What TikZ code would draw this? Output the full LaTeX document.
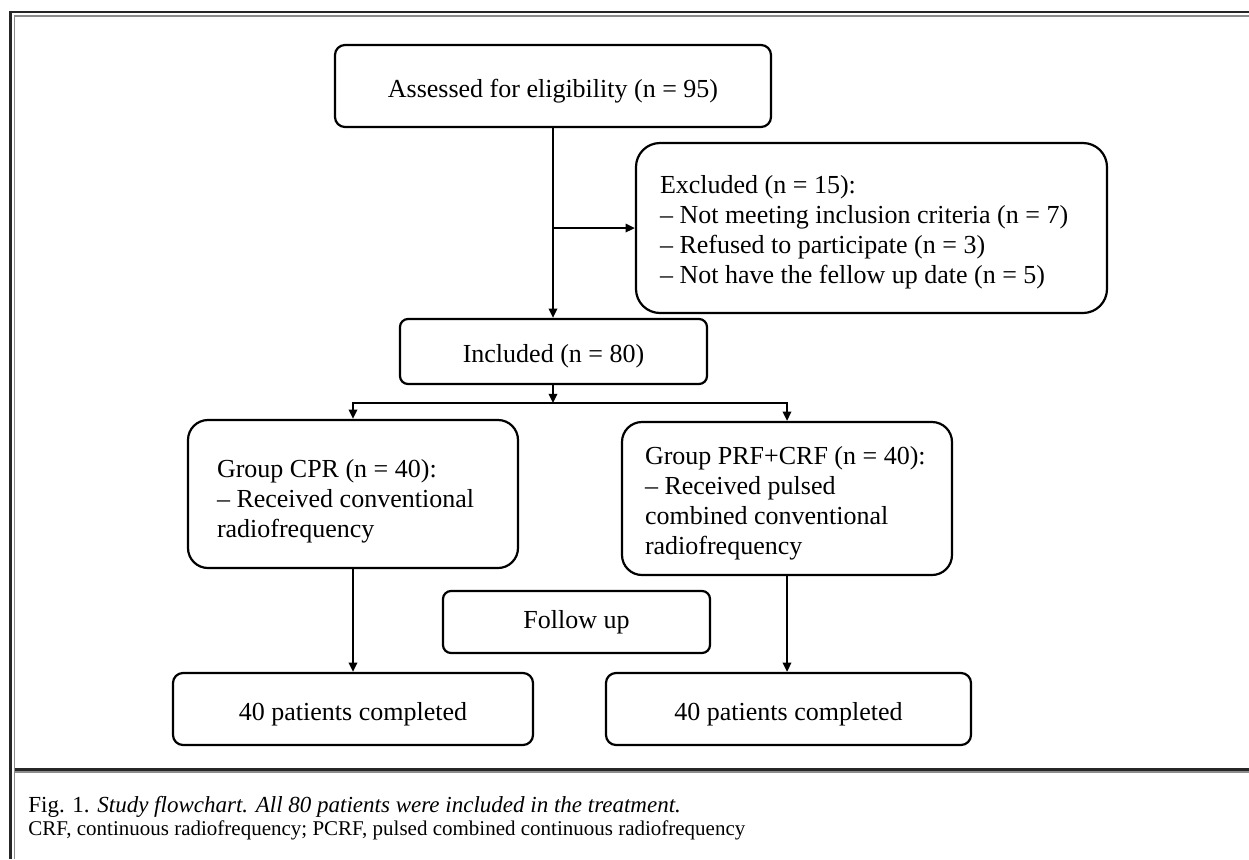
\documentclass[tikz,border=0pt]{standalone}
\usepackage{fontspec}
\setmainfont{Liberation Serif}
\usetikzlibrary{arrows.meta}
\newcommand{\lblock}[3]{\makebox[#1][l]{\begin{tabular}{@{}l@{}}\rule{0pt}{#2}#3\end{tabular}}}
\begin{document}
\begin{tikzpicture}[x=0.5pt,y=-0.5pt,
  fbox/.style={draw, line width=1.1pt, font=\fontsize{13}{15}\selectfont, inner sep=0pt, align=center},
  lowtext/.style={text height=14pt, text depth=3pt},
  arr/.style={line width=1pt, -{Triangle[length=4.6pt,width=4.2pt]}},
  frameline/.style={line width=1.3pt, black!85},
  frameshade/.style={line width=0.7pt, black!45},
  capfont/.style={anchor=base west, inner sep=0pt}]
\useasboundingbox (0,0) rectangle (1249,859);
% frame
\draw[frameline] (10.5,859) -- (10.5,12) -- (1249,12);
\draw[frameshade] (14.5,859) -- (14.5,16) -- (1249,16);
\draw[frameline] (14.5,769.5) -- (1249,769.5);
\draw[frameshade] (14.5,772) -- (1249,772);
% boxes
\node[fbox, lowtext, rounded corners=5pt, minimum width=218pt, minimum height=41pt] (assess) at (553,86) {Assessed for eligibility (n = 95)};
\node[fbox, rounded corners=12pt, minimum width=235.5pt, minimum height=85pt] (excl) at (871.5,228)
  {\lblock{211.5pt}{14.5pt}{Excluded (n = 15):\\– Not meeting inclusion criteria (n = 7)\\– Refused to participate (n = 3)\\– Not have the fellow up date (n = 5)}};
\node[fbox, lowtext, rounded corners=4pt, minimum width=153.5pt, minimum height=32.5pt] (incl) at (553.5,351.5) {Included (n = 80)};
\node[fbox, rounded corners=10pt, minimum width=165pt, minimum height=74pt] (cpr) at (353,494)
  {\lblock{136pt}{17.5pt}{Group CPR (n = 40):\\– Received conventional\\radiofrequency}};
\node[fbox, rounded corners=10pt, minimum width=165pt, minimum height=76.5pt] (prf) at (787,498.5)
  {\lblock{142pt}{15.5pt}{Group PRF+CRF (n = 40):\\– Received pulsed\\combined conventional\\radiofrequency}};
\node[fbox, rounded corners=4pt, minimum width=133.5pt, minimum height=31pt] (fu) at (576.5,622) {Follow up};
\node[fbox, lowtext, rounded corners=5pt, minimum width=180pt, minimum height=36pt] (c1) at (353,709) {40 patients completed};
\node[fbox, lowtext, rounded corners=5pt, minimum width=182.5pt, minimum height=36pt] (c2) at (788.5,709) {40 patients completed};
% connectors
\draw[arr] (assess.south) -- (assess.south |- incl.north);
\coordinate (j1) at (assess.south |- excl.west);
\draw[arr] (j1) -- (excl.west);
\coordinate (br) at (553,403);
\draw[arr] (incl.south -| br) -- (br);
\draw[arr] (br) -| (cpr.north);
\draw[arr] (br) -| (prf.north);
\draw[arr] (cpr.south) -- (cpr.south |- c1.north);
\draw[arr] (prf.south) -- (prf.south |- c2.north);
% caption
\node[capfont, font=\fontsize{11.5}{13}\selectfont] (cap1) at (28,812) {Fig. 1. \textit{Study flowchart. All 80 patients were included in the treatment.}};
\node[capfont, font=\fontsize{10.5}{12}\selectfont] (cap2) at (28,835) {CRF, continuous radiofrequency; PCRF, pulsed combined continuous radiofrequency};
\end{tikzpicture}
\end{document}
